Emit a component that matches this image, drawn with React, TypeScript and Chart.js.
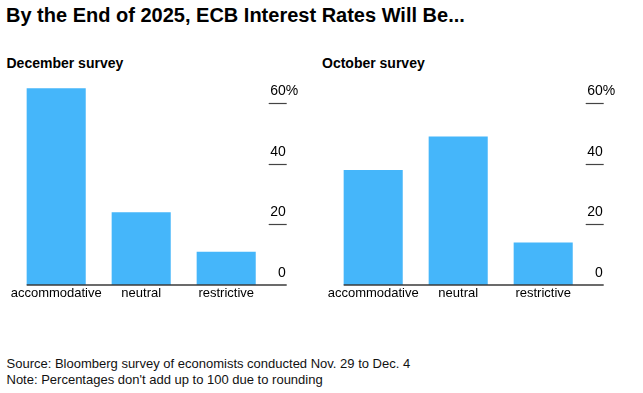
import React, { useEffect, useRef } from 'react';
import { Chart, registerables } from 'chart.js';

Chart.register(...registerables);

const categories = ['accommodative', 'neutral', 'restrictive'];
const decemberValues = [65, 24, 11];
const octoberValues = [38, 49, 14];
const yTickValues = [0, 20, 40, 60];
const yUnit = '%';

const BAR_COLOR = '#45b6fa';
const FONT = '"Liberation Sans", Arial, sans-serif';
const TICK_LEN = 18;

const axisPlugin = {
  id: 'bbgAxis',
  afterDatasetsDraw(chart: any) {
    const { ctx } = chart;
    const y = chart.scales.y;
    const meta = chart.getDatasetMeta(0);
    const first = meta.data[0];
    const xTickStart = y.left;
    const xEnd = y.left + TICK_LEN;
    const xStart = first.x - first.width / 2;
    const y0 = y.getPixelForValue(0);
    ctx.save();
    // tick marks (right side)
    ctx.strokeStyle = '#444';
    ctx.lineWidth = 1.2;
    y.ticks.forEach((t: any) => {
      if (t.value === 0) return;
      const py = Math.round(y.getPixelForValue(t.value)) + 0.5;
      ctx.beginPath();
      ctx.moveTo(xTickStart, py);
      ctx.lineTo(xEnd, py);
      ctx.stroke();
    });
    // baseline
    ctx.strokeStyle = '#3a3a3a';
    ctx.lineWidth = 1.6;
    ctx.beginPath();
    ctx.moveTo(xStart, y0);
    ctx.lineTo(xEnd, y0);
    ctx.stroke();
    // tick labels
    ctx.font = `14px ${FONT}`;
    ctx.fillStyle = '#000';
    ctx.textBaseline = 'alphabetic';
    y.ticks.forEach((t: any) => {
      const py = y.getPixelForValue(t.value) - 8;
      ctx.textAlign = 'right';
      ctx.fillText(String(t.value), xEnd - 1, py);
      if (t.value === y.max) {
        ctx.textAlign = 'left';
        ctx.fillText(yUnit, xEnd - 1, py);
      }
    });
    ctx.restore();
  },
};

function SurveyChart({ values, left, top }: { values: number[]; left: number; top: number }) {
  const ref = useRef<HTMLCanvasElement | null>(null);
  useEffect(() => {
    if (!ref.current) return;
    const chart = new Chart(ref.current, {
      type: 'bar',
      data: {
        labels: categories,
        datasets: [
          {
            data: values,
            backgroundColor: BAR_COLOR,
            borderWidth: 0,
            categoryPercentage: 1,
            barPercentage: 0.695,
            clip: false as any,
          },
        ],
      },
      options: {
        responsive: false,
        animation: false,
        devicePixelRatio: 1,
        layout: { padding: { left: 13.7, right: 23.3, top: 23.3, bottom: 5 } },
        plugins: { legend: { display: false }, tooltip: { enabled: false }, title: { display: false } },
        scales: {
          x: {
            grid: { display: false, drawTicks: false },
            border: { display: false },
            ticks: {
              color: '#000',
              font: { family: FONT, size: 13 },
              padding: 1,
              maxRotation: 0,
              autoSkip: false,
            },
            afterFit(scale: any) {
              scale.height = 20;
            },
          },
          y: {
            position: 'right',
            min: yTickValues[0],
            max: yTickValues[yTickValues.length - 1],
            grid: { display: false },
            border: { display: false },
            ticks: { display: false },
            afterBuildTicks(scale: any) {
              scale.ticks = yTickValues.map((v) => ({ value: v }));
            },
            afterFit(scale: any) {
              scale.width = TICK_LEN;
            },
          },
        },
      },
      plugins: [axisPlugin],
    });
    return () => chart.destroy();
  }, [values]);
  return (
    <canvas
      ref={ref}
      width={310}
      height={230}
      style={{ position: 'absolute', left, top, width: 310, height: 230 }}
    />
  );
}

const textBase: React.CSSProperties = {
  position: 'absolute',
  fontFamily: FONT,
  color: '#000',
  whiteSpace: 'nowrap',
  margin: 0,
};

export default function App() {
  return (
    <div
      style={{
        position: 'absolute',
        left: 0,
        top: 0,
        width: 643,
        height: 393,
        overflow: 'hidden',
        background: '#fff',
      }}
    >
      <div style={{ ...textBase, left: 6, top: 4.6, fontSize: 20, lineHeight: '20px', fontWeight: 700 }}>
        By the End of 2025, ECB Interest Rates Will Be...
      </div>
      <div style={{ ...textBase, left: 6.5, top: 55.9, fontSize: 14, lineHeight: '14px', fontWeight: 700 }}>
        December survey
      </div>
      <div style={{ ...textBase, left: 322, top: 55.9, fontSize: 14, lineHeight: '14px', fontWeight: 700 }}>
        October survey
      </div>
      <SurveyChart values={decemberValues} left={0} top={80} />
      <SurveyChart values={octoberValues} left={317} top={80} />
      <div style={{ ...textBase, left: 6.5, top: 355.5, fontSize: 13, lineHeight: '16px', color: '#111' }}>
        Source: Bloomberg survey of economists conducted Nov. 29 to Dec. 4
        <br />
        Note: Percentages don't add up to 100 due to rounding
      </div>
    </div>
  );
}
